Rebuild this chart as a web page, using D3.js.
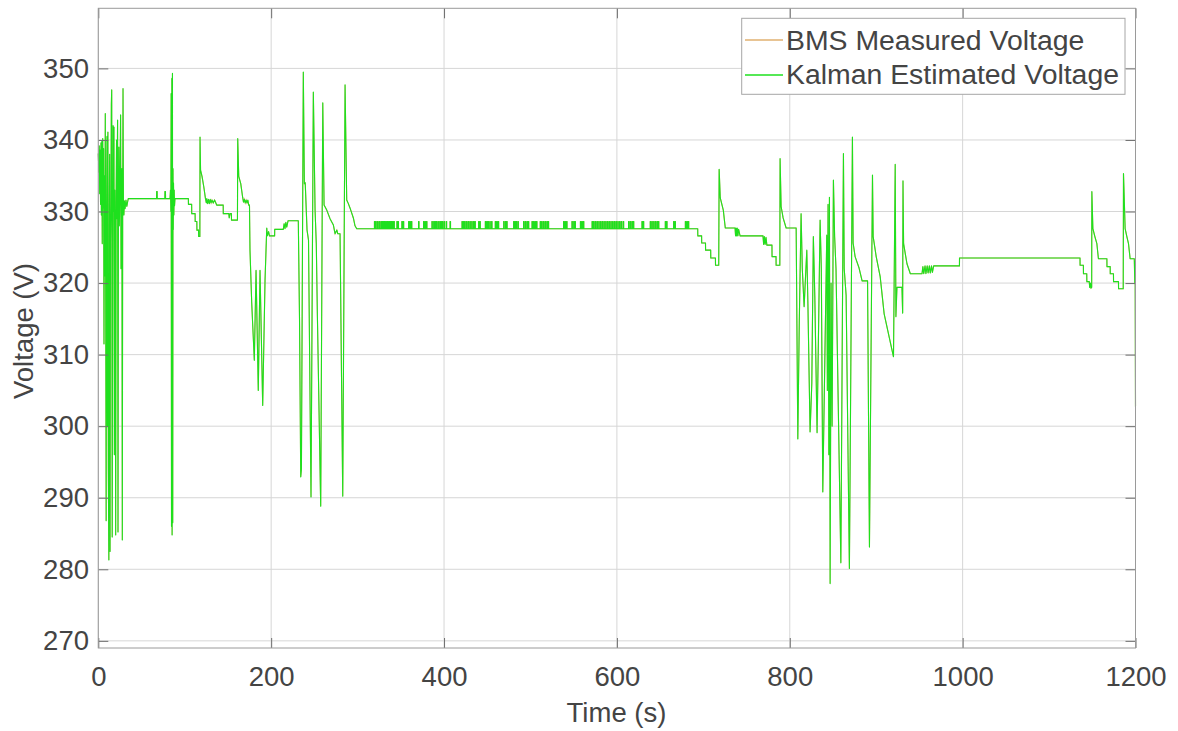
<!DOCTYPE html>
<html>
<head>
<meta charset="utf-8">
<script src="https://cdn.jsdelivr.net/npm/d3@7"></script>
<style>
  body { margin: 0; background: #fff; }
  svg { display: block; }
  text { font-family: "Liberation Sans", Arial, Helvetica, sans-serif; fill: #444; }
</style>
</head>
<body>
<svg id="chart" width="1178" height="731"></svg>
<script>
// Axis ticks
const xTicks = [0, 200, 400, 600, 800, 1000, 1200];
const yTicks = [270, 280, 290, 300, 310, 320, 330, 340, 350];

// Series names
const seriesNames = ["BMS Measured Voltage", "Kalman Estimated Voltage"];

// Pack voltage trace, [time (s), voltage (V)], in drive-cycle segments
const startupBurst = [
  [0,338.1],[0.6,335.5],[1.1,339.2],[1.6,332.5],[2.1,338.6],[2.6,331],[3.1,339.6],[3.6,329.5],
  [4.1,339.8],[4.6,325.5],[5.1,340.2],[5.6,330.5],[6.1,338.8],[6.6,311.5],[7.1,335],[7.6,321],
  [8.1,343.7],[8.6,318],[9.1,286.8],[9.6,330],[10.1,340.5],[10.6,300],[11.1,341.1],[11.6,294],
  [12.2,281.3],[12.7,331],[13.1,338],[13.6,282.5],[14.1,326],[14.6,331],[15.1,345],[15.5,347],
  [16.1,284.5],[16.6,321],[17.1,342],[17.6,330],[18.1,341.8],[18.6,296],[19.1,333],[19.6,326],
  [20.1,284.8],[20.6,331],[21.1,340],[21.6,329],[22.3,342.8],[22.8,285.2],[23.3,329],[23.8,339],
  [24.3,328],[24.8,331],[25.8,343.5],[26.3,322],[26.8,331],[27.3,336],[27.8,284.1],[28.2,330],
  [28.6,347.2],[29.1,331],[29.6,329.5],[30.2,331.5],[31,330.4],[32,331.6],[33,330.7],[34,331.4],
  [34.7,331.8]
];

const firstCruise = [
  [67.4,331.8],[67.5,332.8],[68.1,332.8],[68.2,331.8],[77,331.8],[77.1,332.8],[77.7,332.8],
  [77.8,331.8],[83,331.8],
  [83.5,333],[84,330],[84.3,346.5],[84.7,286],[85.1,348.6],[85.4,284.8],[85.8,349.3],[86.1,286.5],
  [86.4,336],[86.7,327.5],[87,334],[87.4,329.5],[87.8,333],[88.2,330.8],[88.7,331.8],
  [104.2,331.8],[104.3,331.0],[108,331.0],[108.1,329.7],[112,329.7],[112.1,328.6],[114,328.6],
  [114.1,327.4],[116,327.4],[116.1,326.5],[117.5,326.5],[117.7,340.4],[118.3,335.8],[120,334.9],
  [122,333.5],[124,331.8],[125,331.2],[125.5,331.8],[126.5,331.1],[127.5,331.7],[128.5,331.1],
  [129.5,331.7],[130.5,331.2],[131.5,331.6],[133,331.2],[134.5,331.6],[136,331.2],[137,330.9],
  [144.5,330.9],[144.6,329.7],[151,329.7],[151.5,329.1],[152.5,329.7],[154,329.7],[154.1,328.8],
  [161,328.8]
];

const firstDips = [
  [161.3,340.2],[162.5,334.9],[164.8,333.9],[167,332.0],[168,331.3],[169,331.7],[170,331.2],
  [171,331.6],[172,331.2],[173,331.6],[174,330.9],[174.9,330.9],[175.5,324.6],[177.5,317.2],
  [180.5,309.2],[182.5,321.8],[185.1,305.0],[187.1,321.8],[190.2,302.9],[192.9,320.4],[194.9,327.7],
  [195.5,326.6],[197,327.2],[198,326.6],[204,326.6],[204.1,327.5],[214,327.5],[215,328.3],
  [216,327.6],[217,328.5],[218,327.8],[219.5,328.7],[231.4,328.7],
  [232.8,315],[234.2,292.9],[235,294],[237.2,349.5],[238.4,333.9],[239.4,334],[241.5,327.4],
  [243.2,326],[246.1,290.1],[248.8,346.7],[250.8,330.2],[252.2,325.5],[253.5,315.3],[257.3,288.8],
  [259.7,345.2],[261.2,330.9],[264.3,330.2],[268.1,329.0],[272,328.1],[273.9,326.9],[276,327.4],
  [277,326.9],[279.7,326.9],[282.8,290.2],[285.5,347.7],[287.4,331.6],[289.3,331.1],[291.2,330.5],
  [295.1,329.1],[297,328.0],[299,327.6]
];

// Long rest: base level, and the short one-count rises above it
const restLevel = [327.6, 328.6];
const restSpan = [299, 687];
const restPulseTimes = [
  319.5,321,323,325,327,328.5,330,331,332.5,334,335,336.5,338,339,340.5,342,345.5,346.8,
  351.2,352.8,359,360.5,362.2,370.5,376.3,378,379.7,386,388,389.5,391,393,395,396.5,398,400,
  402.5,407,420.8,422.5,424,426,428,430,432,434,435.7,440,441.5,447.8,449.5,451,453,455,
  459.3,461,462.7,469,471,472.5,480.5,482,483.5,485.5,492,494,496,497.5,501.8,503.5,505.3,507,
  511.3,513,515,517,519,520.5,538.3,540,541.8,548,550,551.5,557.8,559.5,561.2,571.3,573,575,
  577,579,581,583,585,587,589,591,593,595,597,599,601,603,605,607.3,613.5,615.5,617.5,619,
  629,630.5,638.6,640.5,642.5,644.5,646.5,648,656,657.5,665.6,667.2,679.2,681,682.6
];
const restPulseWidth = 0.5;

const secondCruise = [
  [693.5,327.6],[693.6,326.6],[698,326.6],[698.1,325.6],[702.5,325.6],[702.6,324.6],[708.5,324.6],
  [708.6,323.5],[714,323.5],[714.1,322.5],[717.8,322.5],[718.3,335.9],[719.6,331.9],[723.1,330.2],
  [725.4,327.7],[736.7,327.7],[737.3,326.6],[737.8,327.7],[738.5,326.6],[739.2,327.7],[740,326.6],
  [740.8,327.5],[742.5,326.6],[769,326.6],[769.8,325.4],[770.6,326.5],[771.5,325.4],[772.5,326.4],
  [773.5,325.3],[779.4,325.3],[779.5,323.7],[784.1,323.7],[784.2,322.5],[788.5,322.5],[788.8,337.4],
  [790,330.7],[792.3,329.1],[795.8,327.7],[807.4,327.7]
];

const secondDips = [
  [809.3,298.2],[811,314.4],[813.1,329.7],[814.5,322],[816.6,316.7],[819.7,324.6],[821,317],
  [823.5,299.2],[825.5,306],[827.3,326.5],[829,318],[831.6,299.1],[835.1,328.8],[836.5,322],
  [838.2,290.8],[842.8,326.7],[843.5,305],[844.3,331],[845.2,296],[845.9,332],[846.7,278.0],
  [847.8,320],[849,300],[850.5,334.4],[851.9,326.5],[853.5,322],[859.1,280.9],[862.1,338.1],
  [863,322],[865.2,318.3],[869,280.1],[872.5,340.4],[873.3,325.6],[875.6,323.7],[880.2,322.1],
  [883.7,320.3],[890,320.3],[892.2,283.1],[895.7,335.1],[896.5,326.5],[900,323.7],[904.6,320.9],
  [909.2,315.7],[920,309.7],[922,336.6],[922.8,315.3],[924,319.4],[929.8,319.4],[930.6,315.8],
  [931,334.3],[931.7,325.5],[935.6,322.7],[939.5,321.3],[953,321.3],[954,322.3],[955,321.3],
  [956.5,322.4],[957.5,321.3],[959,322.4],[960,321.4],[961.5,322.4],[962.5,321.4],[964,322.4],
  [965,321.5],[966.5,322.4],[968.6,322.4],[996.3,322.4],[996.4,323.5],[1132.1,323.5]
];

const finalStretch = [
  [1135.8,323.5],[1135.9,322.5],[1139.7,322.5],[1139.8,321.3],[1143.6,321.3],[1143.7,320.2],
  [1146.5,320.2],[1147,319.4],[1147.8,320],[1148.5,319.3],[1149.3,319.4],[1149.5,332.8],
  [1150.7,327.6],[1153,326.5],[1155.3,325.5],[1157.1,323.4],[1166.9,323.4],[1167,322.3],
  [1170.7,322.3],[1170.8,321.3],[1174.5,321.3],[1174.6,320.2],[1180.3,320.2],[1180.4,319.2],
  [1185.8,319.2],[1186.1,335.3],[1188,327.6],[1190,326.5],[1191.9,325.5],[1193.8,323.4],
  [1198.6,323.4],[1199.2,320],[1199.6,323],[1200,302.7]
];

// Rest segment: flat base with a narrow rise at each listed time
const restSegment = [[restSpan[0], restLevel[0]]];
restPulseTimes.forEach(t => {
  restSegment.push([t, restLevel[0]], [t, restLevel[1]],
                   [t + restPulseWidth, restLevel[1]], [t + restPulseWidth, restLevel[0]]);
});
restSegment.push([restSpan[1], restLevel[0]]);

const kalmanTrace = [].concat(startupBurst, firstCruise, firstDips, restSegment,
                              secondCruise, secondDips, finalStretch);
// The BMS reading and the filter estimate coincide at this resolution
const bmsTrace = kalmanTrace;

const colors = { bms: "#e0b070", kalman: "#1ee01e" };

const svg = d3.select("#chart");
const plot = { left: 98.3, right: 1135.5, top: 8.3, bottom: 648 };

const x = d3.scaleLinear().domain([0, 1200]).range([plot.left, plot.right]);
const y = d3.scaleLinear().domain([269, 358.4]).range([plot.bottom, plot.top]);

// Grid
const grid = svg.append("g").attr("stroke", "#d6d6d6").attr("stroke-width", 1);
grid.selectAll("line.gx").data(xTicks).join("line")
  .attr("x1", d => x(d)).attr("x2", d => x(d))
  .attr("y1", plot.top).attr("y2", plot.bottom);
grid.selectAll("line.gy").data(yTicks).join("line")
  .attr("x1", plot.left).attr("x2", plot.right)
  .attr("y1", d => y(d)).attr("y2", d => y(d));

// Traces
const line = d3.line().x(d => x(d[0])).y(d => y(d[1]));
svg.append("path").datum(bmsTrace)
  .attr("fill", "none").attr("stroke", colors.bms).attr("stroke-width", 1.1).attr("d", line);
svg.append("path").datum(kalmanTrace)
  .attr("fill", "none").attr("stroke", colors.kalman).attr("stroke-width", 1.1)
  .attr("stroke-linejoin", "round").attr("d", line);

// Axes with inward ticks on all four sides
function styleAxis(g) {
  g.select(".domain").remove();
  g.selectAll(".tick line").attr("stroke", "#6e6e6e");
  g.selectAll(".tick text").attr("fill", "#444").style("font-size", "27.5px")
    .style("font-family", '"Liberation Sans", Arial, Helvetica, sans-serif');
}
svg.append("g").attr("transform", `translate(0,${plot.bottom})`)
  .call(d3.axisBottom(x).tickValues(xTicks).tickFormat(d3.format("d"))
    .tickSizeInner(-10).tickSizeOuter(0).tickPadding(18.7))
  .call(styleAxis);
svg.append("g").attr("transform", `translate(0,${plot.top})`)
  .call(d3.axisTop(x).tickValues(xTicks).tickFormat("").tickSizeInner(-10).tickSizeOuter(0))
  .call(styleAxis);
svg.append("g").attr("transform", `translate(${plot.left},0)`)
  .call(d3.axisLeft(y).tickValues(yTicks).tickFormat(d3.format("d"))
    .tickSizeInner(-10).tickSizeOuter(0).tickPadding(9.3))
  .call(styleAxis);
svg.append("g").attr("transform", `translate(${plot.right},0)`)
  .call(d3.axisRight(y).tickValues(yTicks).tickFormat("").tickSizeInner(-10).tickSizeOuter(0))
  .call(styleAxis);

// Box
svg.append("rect")
  .attr("x", plot.left).attr("y", plot.top)
  .attr("width", plot.right - plot.left).attr("height", plot.bottom - plot.top)
  .attr("fill", "none").attr("stroke", "#9a9a9a").attr("stroke-width", 1);

// Axis titles
svg.append("text").attr("x", 616.5).attr("y", 722).attr("text-anchor", "middle")
  .style("font-size", "27.5px").text("Time (s)");
svg.append("text").attr("transform", "translate(33,331) rotate(-90)").attr("text-anchor", "middle")
  .style("font-size", "27.5px").text("Voltage (V)");

// Legend
const legend = svg.append("g");
legend.append("rect").attr("x", 741.7).attr("y", 18.3).attr("width", 383.3).attr("height", 76)
  .attr("fill", "#fff").attr("stroke", "#a6a6a6").attr("stroke-width", 1);
const legendRows = [
  { name: seriesNames[0], color: colors.bms, ly: 40, ty: 50 },
  { name: seriesNames[1], color: colors.kalman, ly: 75, ty: 84.3 }
];
legendRows.forEach(r => {
  legend.append("line").attr("x1", 745).attr("x2", 783).attr("y1", r.ly).attr("y2", r.ly)
    .attr("stroke", r.color).attr("stroke-width", 1.5);
  legend.append("text").attr("x", 786).attr("y", r.ty).style("font-size", "28.4px").text(r.name);
});
</script>
</body>
</html>
